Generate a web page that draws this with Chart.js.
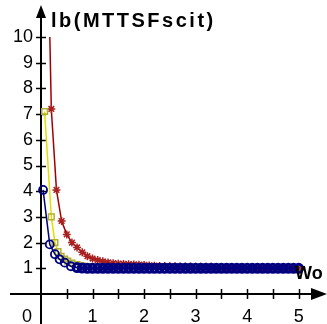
<!DOCTYPE html>
<html>
<head>
<meta charset="utf-8">
<script src="https://cdn.jsdelivr.net/npm/chart.js@4"></script>
<style>
  html, body { margin: 0; padding: 0; background: #fff; }
</style>
</head>
<body>
<canvas id="chart" width="327" height="324"></canvas>
<script>
// values
const redX = [0.1, 0.2, 0.3, 0.4, 0.5, 0.6, 0.7, 0.8, 0.9, 1.0,
  1.1, 1.2, 1.3, 1.4, 1.5, 1.6, 1.7, 1.8, 1.9, 2.0,
  2.1, 2.2, 2.3, 2.4, 2.5, 2.6, 2.7, 2.8, 2.9, 3.0,
  3.1, 3.2, 3.3, 3.4, 3.5, 3.6, 3.7, 3.8, 3.9, 4.0,
  4.1, 4.2, 4.3, 4.4, 4.5, 4.6, 4.7, 4.8, 4.9, 5.0];
const redY = [17, 7.2, 4.05, 2.84, 2.32, 2.0, 1.81, 1.62, 1.47, 1.38,
  1.32, 1.27, 1.23, 1.2, 1.18, 1.17, 1.16, 1.15, 1.14, 1.13,
  1.11, 1.1, 1.09, 1.09, 1.08, 1.08, 1.07, 1.07, 1.07, 1.06,
  1.06, 1.06, 1.06, 1.05, 1.05, 1.05, 1.05, 1.05, 1.04, 1.04,
  1.04, 1.04, 1.04, 1.04, 1.03, 1.03, 1.03, 1.03, 1.03, 1.03];

const yellowX = [0.07, 0.2, 0.27, 0.33, 0.39, 0.46, 0.52, 0.6, 0.7, 0.8, 0.9, 1.0,
  1.1, 1.2, 1.3, 1.4, 1.5, 1.6, 1.7, 1.8, 1.9, 2.0,
  2.5, 3.0, 3.5, 4.0, 4.5, 5.0];
const yellowY = [7.1, 3.0, 2.0, 1.65, 1.47, 1.36, 1.28, 1.2, 1.14, 1.1, 1.07, 1.05,
  1.04, 1.03, 1.02, 1.02, 1.01, 1.01, 1.01, 1.0, 1.0, 1.0,
  1.0, 1.0, 1.0, 1.0, 1.0, 1.0];

const blueX = [0.04, 0.17, 0.27, 0.36, 0.46, 0.58, 0.7, 0.8, 0.9, 1.0,
  1.1, 1.2, 1.3, 1.4, 1.5, 1.6, 1.7, 1.8, 1.9, 2.0,
  2.1, 2.2, 2.3, 2.4, 2.5, 2.6, 2.7, 2.8, 2.9, 3.0,
  3.1, 3.2, 3.3, 3.4, 3.5, 3.6, 3.7, 3.8, 3.9, 4.0,
  4.1, 4.2, 4.3, 4.4, 4.5, 4.6, 4.7, 4.8, 4.9, 5.0];
const blueY = [4.05, 1.93, 1.55, 1.35, 1.22, 1.08, 1.03, 1.01, 1.0, 1.0,
  1.0, 1.0, 1.0, 1.0, 1.0, 1.0, 1.0, 1.0, 1.0, 1.0,
  1.0, 1.0, 1.0, 1.0, 1.0, 1.0, 1.0, 1.0, 1.0, 1.0,
  1.0, 1.0, 1.0, 1.0, 1.0, 1.0, 1.0, 1.0, 1.0, 1.0,
  1.0, 1.0, 1.0, 1.0, 1.0, 1.0, 1.0, 1.0, 1.0, 1.0];

const xLabelValues = [1, 2, 3, 4, 5];
const yTickValues = [1, 2, 3, 4, 5, 6, 7, 8, 9, 10];
const xTickValues = [0.5, 1, 1.5, 2, 2.5, 3, 3.5, 4, 4.5, 5];
const yTitle = 'lb(MTTSFscit)';
const xTitle = 'Wo';

const FONT = 'Liberation Sans';

function toPoints(xs, ys) {
  return xs.map((x, i) => ({ x: x, y: ys[i] }));
}

// axis lines with arrows, crossing tick marks, axis names
const axesPlugin = {
  id: 'axes',
  beforeDatasetsDraw(chart) {
    const ctx = chart.ctx;
    const xs = chart.scales.x, ys = chart.scales.y;
    const x0 = xs.getPixelForValue(0);
    const y0 = ys.getPixelForValue(0);
    ctx.save();
    ctx.strokeStyle = '#000';
    ctx.fillStyle = '#000';
    ctx.lineWidth = 2;
    ctx.beginPath();
    ctx.moveTo(x0, 324);
    ctx.lineTo(x0, 14);
    ctx.moveTo(10, y0);
    ctx.lineTo(314, y0);
    ctx.stroke();
    // arrows
    ctx.beginPath();
    ctx.moveTo(x0, 5);
    ctx.lineTo(x0 - 5, 18);
    ctx.lineTo(x0 + 5, 18);
    ctx.closePath();
    ctx.fill();
    ctx.beginPath();
    ctx.moveTo(327, y0);
    ctx.lineTo(311, y0 - 6);
    ctx.lineTo(311, y0 + 6);
    ctx.closePath();
    ctx.fill();
    // ticks
    ctx.lineWidth = 1.5;
    ctx.beginPath();
    yTickValues.forEach(v => {
      const py = Math.round(ys.getPixelForValue(v)) + 0.5;
      ctx.moveTo(x0 - 5, py);
      ctx.lineTo(x0 + 5, py);
    });
    xTickValues.forEach(v => {
      const px = Math.round(xs.getPixelForValue(v)) + 0.5;
      ctx.moveTo(px, y0 - 5);
      ctx.lineTo(px, y0 + 5);
    });
    ctx.stroke();
    ctx.restore();
  },
  afterDraw(chart) {
    const ctx = chart.ctx;
    const xs = chart.scales.x, ys = chart.scales.y;
    const x0 = xs.getPixelForValue(0);
    const y0 = ys.getPixelForValue(0);
    ctx.save();
    ctx.fillStyle = '#000';
    ctx.textBaseline = 'alphabetic';
    ctx.font = 'bold 20px "' + FONT + '"';
    ctx.letterSpacing = '2.5px';
    ctx.fillText(yTitle, x0 + 10, 27);
    ctx.letterSpacing = '0px';
    ctx.font = 'bold 18px "' + FONT + '"';
    ctx.fillText(xTitle, 295, 279);
    ctx.font = '18px "' + FONT + '"';
    ctx.textAlign = 'center';
    ctx.fillText('0', x0 - 14, y0 + 28);
    ctx.restore();
  }
};

new Chart(document.getElementById('chart'), {
  type: 'line',
  data: {
    datasets: [{
      label: 'blue',
      data: toPoints(blueX, blueY),
      borderColor: '#000080',
      borderWidth: 1.5,
      pointStyle: 'circle',
      pointRadius: 4,
      // open circles on the steep part, dense thick rings on the flat band
      pointBorderWidth: c => (c.parsed && c.parsed.x < 0.65) ? 1.8 : 3,
      pointBorderColor: '#000080',
      pointBackgroundColor: 'rgba(0,0,0,0)',
      clip: { left: 10, right: 10, top: 0, bottom: 10 }
    }, {
      label: 'yellow',
      data: toPoints(yellowX, yellowY),
      borderColor: '#e0e000',
      borderWidth: 1.5,
      pointStyle: 'rect',
      pointRadius: 4,
      pointBorderWidth: 1.5,
      pointBorderColor: '#b0b030',
      pointBackgroundColor: 'rgba(0,0,0,0)',
      clip: { left: 10, right: 10, top: 0, bottom: 10 }
    }, {
      label: 'red',
      data: toPoints(redX, redY),
      borderColor: '#a00000',
      borderWidth: 1.5,
      pointStyle: 'star',
      pointRadius: 4,
      pointBorderWidth: 1.5,
      pointBorderColor: '#a82020',
      pointBackgroundColor: 'rgba(0,0,0,0)',
      clip: { left: 10, right: 10, top: 0, bottom: 10 }
    }]
  },
  options: {
    responsive: false,
    animation: false,
    devicePixelRatio: 1,
    layout: { padding: { top: 37, right: 18, left: 0, bottom: 0 } },
    plugins: { legend: { display: false }, tooltip: { enabled: false } },
    elements: { line: { tension: 0 } },
    scales: {
      x: {
        type: 'linear',
        min: 0,
        max: 5.2,
        afterBuildTicks: s => { s.ticks = xLabelValues.map(v => ({ value: v })); },
        afterFit: s => { s.height = 30; },
        grid: { display: false, drawTicks: false },
        border: { display: false },
        ticks: {
          padding: 12,
          autoSkip: false,
          maxRotation: 0,
          color: '#000',
          font: { family: FONT, size: 18 },
          callback: v => String(v)
        }
      },
      y: {
        type: 'linear',
        min: 0,
        max: 10,
        afterBuildTicks: s => { s.ticks = yTickValues.map(v => ({ value: v })); },
        afterFit: s => { s.width = 41; },
        grid: { display: false, drawTicks: false },
        border: { display: false },
        ticks: {
          padding: 8,
          autoSkip: false,
          color: '#000',
          font: { family: FONT, size: 18 },
          callback: v => String(v)
        }
      }
    }
  },
  plugins: [axesPlugin]
});
</script>
</body>
</html>
